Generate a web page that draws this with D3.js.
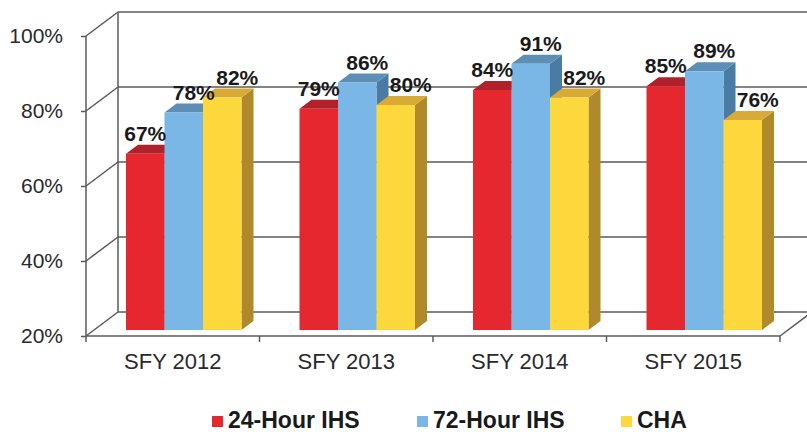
<!DOCTYPE html>
<html>
<head>
<meta charset="utf-8">
<script src="https://cdn.jsdelivr.net/npm/d3@7"></script>
<style>
  body { margin: 0; background: #fff; }
  text { font-family: "Liberation Sans", Arial, sans-serif; }
</style>
</head>
<body>
<svg id="chart"></svg>
<script>
// DATA
const categories = ["SFY 2012", "SFY 2013", "SFY 2014", "SFY 2015"];
const seriesNames = ["24-Hour IHS", "72-Hour IHS", "CHA"];
const ihs24 = [67, 79, 84, 85];
const ihs72 = [78, 86, 91, 89];
const cha = [82, 80, 82, 76];
const yTicks = [20, 40, 60, 80, 100];

const seriesValues = [ihs24, ihs72, cha];

// colours: front, top, side
const palette = [
  { front: "#e5282f", top: "#b12129", side: "#9c1d24" },
  { front: "#7ab6e6", top: "#5d8fb6", side: "#4a7ba3" },
  { front: "#fcd83c", top: "#d9aa36", side: "#b08a2a" }
];

const width = 807, height = 432;
const svg = d3.select("#chart").attr("width", width).attr("height", height);

// wall depth offset and bar placement in depth
const wallDx = 32, wallDy = -24;
const barShiftX = 8, barShiftY = -6;
const barDepthX = 12, barDepthY = -9;

const x = d3.scaleBand().domain(categories).range([86, 780]);
const y = d3.scaleLinear().domain([20, 100]).range([336, 36]);

const barW = 38.5;
const barStart = 32; // offset of first bar front inside its band
const labelShift = [0, 10, 15];

const gridColor = "#5a5a5a";

// back wall gridlines
const walls = svg.append("g").attr("stroke", gridColor).attr("stroke-width", 1.5).attr("fill", "none");
walls.selectAll(".back-grid")
  .data(yTicks)
  .join("line")
  .attr("class", "back-grid")
  .attr("x1", x.range()[0] + wallDx)
  .attr("x2", x.range()[1] + wallDx)
  .attr("y1", d => y(d) + wallDy)
  .attr("y2", d => y(d) + wallDy);

// side wall diagonals
walls.selectAll(".side-grid")
  .data(yTicks)
  .join("line")
  .attr("class", "side-grid")
  .attr("x1", x.range()[0])
  .attr("x2", x.range()[0] + wallDx)
  .attr("y1", d => y(d))
  .attr("y2", d => y(d) + wallDy);

// back vertical edge
walls.append("line")
  .attr("x1", x.range()[0] + wallDx).attr("x2", x.range()[0] + wallDx)
  .attr("y1", y(20) + wallDy).attr("y2", y(100) + wallDy);

// floor right edge
walls.append("line")
  .attr("x1", x.range()[1]).attr("x2", x.range()[1] + wallDx)
  .attr("y1", y(20)).attr("y2", y(20) + wallDy);

// front value axis
walls.append("line")
  .attr("x1", x.range()[0]).attr("x2", x.range()[0])
  .attr("y1", y(20)).attr("y2", y(100));

const yAxis = svg.append("g")
  .attr("transform", `translate(${x.range()[0]},0)`)
  .call(d3.axisLeft(y).tickValues(yTicks).tickSize(5).tickPadding(18).tickFormat(d => d + "%"));
yAxis.select(".domain").remove();
yAxis.selectAll("line").attr("stroke", gridColor).attr("stroke-width", 1.5);
yAxis.selectAll("text").attr("font-size", 21).attr("fill", "#2a2a2a")
  .attr("font-family", "Liberation Sans, Arial, sans-serif");

// bars
const bars = svg.append("g");
categories.forEach((cat, ci) => {
  seriesValues.forEach((vals, si) => {
    const v = vals[ci];
    const x0 = x(cat) + barStart + si * barW + barShiftX;
    const x1 = x0 + barW;
    const yb = y(20) + barShiftY;
    const yt = y(v) + barShiftY;
    const c = palette[si];
    const g = bars.append("g");
    // side face
    g.append("path")
      .attr("d", `M${x1},${yb} L${x1 + barDepthX},${yb + barDepthY} L${x1 + barDepthX},${yt + barDepthY} L${x1},${yt} Z`)
      .attr("fill", c.side);
    // top face
    g.append("path")
      .attr("d", `M${x0},${yt} L${x0 + barDepthX},${yt + barDepthY} L${x1 + barDepthX},${yt + barDepthY} L${x1},${yt} Z`)
      .attr("fill", c.top);
    // front face
    g.append("rect")
      .attr("x", x0).attr("y", yt)
      .attr("width", barW).attr("height", yb - yt)
      .attr("fill", c.front);
  });
});

// value labels
categories.forEach((cat, ci) => {
  seriesValues.forEach((vals, si) => {
    const v = vals[ci];
    const cx = x(cat) + barStart + si * barW + barShiftX + barW / 2 + labelShift[si];
    svg.append("text")
      .attr("x", cx)
      .attr("y", y(v) + barShiftY + barDepthY - 4)
      .attr("text-anchor", "middle")
      .attr("font-size", 21)
      .attr("font-weight", "bold")
      .attr("fill", "#1a1a1a")
      .text(v + "%");
  });
});

// category axis (front baseline)
const xAxis = svg.append("g")
  .attr("transform", `translate(0,${y(20)})`)
  .call(d3.axisBottom(x).tickSize(0).tickPadding(17));
xAxis.select(".domain").attr("stroke", gridColor).attr("stroke-width", 1.5)
  .attr("d", `M${x.range()[0]},0H${x.range()[1]}`);
xAxis.selectAll("text").attr("font-size", 22).attr("fill", "#2a2a2a")
  .attr("font-family", "Liberation Sans, Arial, sans-serif");
xAxis.selectAll(".cat-tick")
  .data(d3.range(categories.length + 1))
  .join("line")
  .attr("class", "cat-tick")
  .attr("x1", i => x.range()[0] + i * x.bandwidth())
  .attr("x2", i => x.range()[0] + i * x.bandwidth())
  .attr("y1", 0).attr("y2", 6)
  .attr("stroke", gridColor).attr("stroke-width", 1.5);

// legend
const legendX = [212, 417, 621];
const legend = svg.append("g");
seriesNames.forEach((name, i) => {
  legend.append("rect")
    .attr("x", legendX[i]).attr("y", 416)
    .attr("width", 11).attr("height", 11)
    .attr("fill", palette[i].front);
  legend.append("text")
    .attr("x", legendX[i] + 16).attr("y", 428)
    .attr("font-size", 23).attr("font-weight", "bold")
    .attr("fill", "#1a1a1a")
    .text(name);
});
</script>
</body>
</html>
